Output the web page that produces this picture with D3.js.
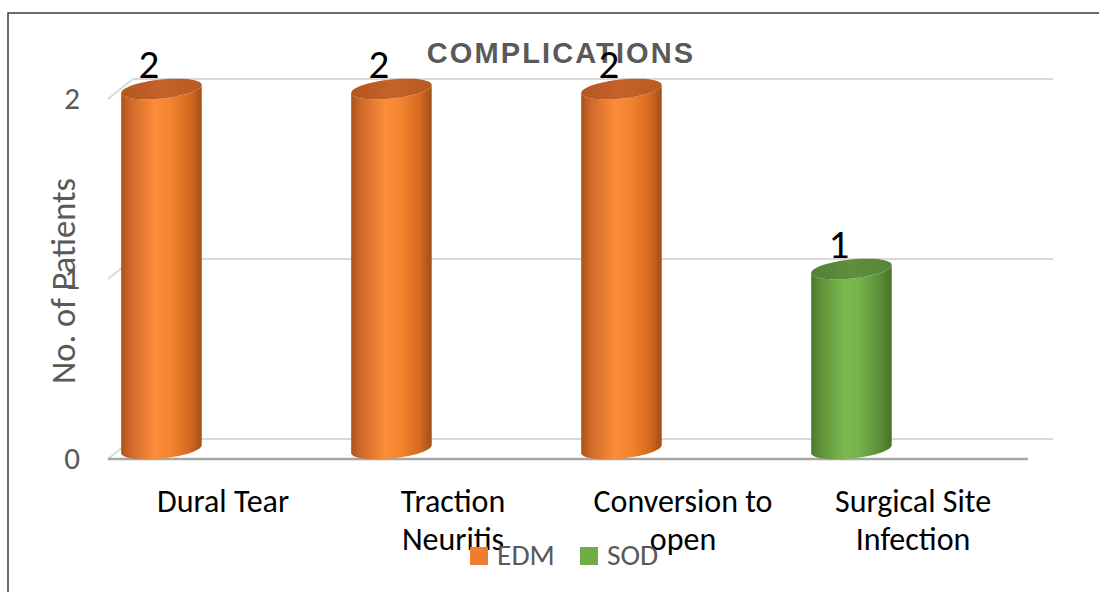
<!DOCTYPE html>
<html>
<head>
<meta charset="utf-8">
<script src="https://cdn.jsdelivr.net/npm/d3@7"></script>
<style>
  body { margin: 0; background: #fff; }
  svg { display: block; }
</style>
</head>
<body>
<svg id="chart" width="1099" height="592"></svg>
<script>
// Complications per category, split by procedure
const categories = ["Dural Tear", "Traction Neuritis", "Conversion to open", "Surgical Site Infection"];
const categoryLines = [["Dural Tear"], ["Traction", "Neuritis"], ["Conversion to", "open"], ["Surgical Site", "Infection"]];
const seriesNames = ["EDM", "SOD"];
const edmValues = [2, 2, 2, 0];
const sodValues = [0, 0, 0, 1];
const yTickValues = [0, 1, 2];
const seriesColors = ["#ED7D31", "#70AD47"];

const FONT = "Carlito, Lato, 'Open Sans', sans-serif";
const svg = d3.select("#chart");

// 3-D look: back wall is offset from the front plane by (dx, dy)
const depth = { dx: 25, dy: -20 };
const x = d3.scaleBand().domain(categories).range([108, 1028]);
const y = d3.scaleLinear().domain([0, 2]).range([459, 99]);
const bw = x.bandwidth();

// gradients for cylinder sides and tops
const defs = svg.append("defs");
const sideStops = [
  [[0, "#ad531b"], [0.12, "#d0692a"], [0.42, "#fb8c3a"], [0.6, "#f5852f"], [0.86, "#d3691f"], [1, "#a24e18"]],
  [[0, "#4c7a2f"], [0.12, "#5f9239"], [0.42, "#7cba50"], [0.6, "#76b14a"], [0.86, "#5a8d36"], [1, "#47722a"]]
];
const topStops = [
  [[0, "#b4571f"], [0.5, "#c4622a"], [1, "#b85a22"]],
  [[0, "#547f35"], [0.5, "#5f8f3d"], [1, "#578538"]]
];
seriesNames.forEach((s, i) => {
  const g = defs.append("linearGradient").attr("id", "side" + i)
    .attr("x1", 0).attr("x2", 1).attr("y1", 0).attr("y2", 0);
  sideStops[i].forEach(([o, c]) => g.append("stop").attr("offset", o).attr("stop-color", c));
  const t = defs.append("linearGradient").attr("id", "top" + i)
    .attr("x1", 0).attr("x2", 1).attr("y1", 0).attr("y2", 0);
  topStops[i].forEach(([o, c]) => t.append("stop").attr("offset", o).attr("stop-color", c));
});

// outer frame
svg.append("path").attr("d", "M8,592V13H1099")
  .attr("fill", "none").attr("stroke", "#3a3a3a").attr("stroke-width", 1.5);

// title
svg.append("text")
  .attr("x", 561).attr("y", 63)
  .attr("text-anchor", "middle")
  .style("font-family", "'Liberation Sans', Arial, sans-serif")
  .style("font-weight", "bold").style("font-size", "29px")
  .style("letter-spacing", "2.1px")
  .attr("fill", "#595959")
  .text("COMPLICATIONS");

// gridlines on the back wall plus the side-wall diagonals
const grid = svg.append("g");
yTickValues.forEach(v => {
  grid.append("line")
    .attr("x1", x.range()[0] + depth.dx).attr("x2", x.range()[1] + depth.dx)
    .attr("y1", y(v) + depth.dy).attr("y2", y(v) + depth.dy)
    .attr("stroke", "#d9d9d9").attr("stroke-width", 2);
  grid.append("line")
    .attr("x1", x.range()[0]).attr("y1", y(v))
    .attr("x2", x.range()[0] + depth.dx).attr("y2", y(v) + depth.dy)
    .attr("stroke", "#d9d9d9").attr("stroke-width", 2);
});
// front floor edge
grid.append("line")
  .attr("x1", x.range()[0]).attr("x2", x.range()[1])
  .attr("y1", y(0)).attr("y2", y(0))
  .attr("stroke", "#a6a6a6").attr("stroke-width", 2.5);

// y axis tick labels
const yAxis = svg.append("g").attr("transform", "translate(80,0)")
  .call(d3.axisLeft(y).tickValues(yTickValues).tickSize(0).tickPadding(0).tickFormat(d3.format("d")));
yAxis.select(".domain").remove();
yAxis.selectAll("text")
  .style("font-family", FONT).style("font-size", "31px").attr("fill", "#595959");

// y axis title
svg.append("text")
  .attr("transform", "translate(75,281) rotate(-90)")
  .attr("text-anchor", "middle")
  .style("font-family", FONT).style("font-size", "34.5px")
  .attr("fill", "#595959")
  .text("No. of Patients");

// category labels
const xAxis = svg.append("g").attr("transform", `translate(0,${y(0)})`)
  .call(d3.axisBottom(x).tickSize(0));
xAxis.select(".domain").remove();
xAxis.selectAll("text").each(function (d, i) {
  const t = d3.select(this).text(null).attr("y", 0).attr("dy", null)
    .style("font-family", FONT).style("font-size", "32px").attr("fill", "#000");
  categoryLines[i].forEach((line, k) => {
    t.append("tspan").attr("x", 0).attr("y", 53 + k * 38).text(line);
  });
});

// cylinder geometry
const theta = -6 * Math.PI / 180;
function ellipsePt(cx, cy, rx, ry, t) {
  return [
    cx + rx * Math.cos(t) * Math.cos(theta) - ry * Math.sin(t) * Math.sin(theta),
    cy + rx * Math.cos(t) * Math.sin(theta) + ry * Math.sin(t) * Math.cos(theta)
  ];
}
const line = d3.line();
function sidePath(cx, yTop, yBot, rx, ry) {
  const t0 = Math.atan2(-ry * Math.sin(theta), rx * Math.cos(theta));
  const pts = [];
  // left silhouette down, bottom front arc, right silhouette up, top front arc
  d3.range(0, 41).forEach(k => pts.push(ellipsePt(cx, yBot, rx, ry, t0 + Math.PI - k * Math.PI / 40)));
  d3.range(0, 41).forEach(k => pts.push(ellipsePt(cx, yTop, rx, ry, t0 + k * Math.PI / 40)));
  return line(pts) + "Z";
}
function topPath(cx, cy, rx, ry) {
  return line(d3.range(0, 81).map(k => ellipsePt(cx, cy, rx, ry, k * 2 * Math.PI / 80))) + "Z";
}

// one cylinder per non-zero value
const bars = [];
categories.forEach((c, i) => {
  [edmValues[i], sodValues[i]].forEach((v, s) => {
    if (v > 0) bars.push({ category: c, series: s, value: v });
  });
});

const rx = bw * 0.176, ry = 9.5;
const frontCx = d => x(d.category) + bw * 0.178;
const barG = svg.append("g");
bars.forEach(d => {
  const cx = frontCx(d) + depth.dx / 2;
  const yTop = y(d.value) + depth.dy / 2;
  const yBot = y(0) + depth.dy / 2;
  barG.append("path").attr("d", sidePath(cx, yTop, yBot, rx, ry))
    .attr("fill", `url(#side${d.series})`);
  barG.append("path").attr("d", topPath(cx, yTop, rx, ry))
    .attr("fill", `url(#top${d.series})`);
});

// value labels
svg.append("g").selectAll("text").data(bars).join("text")
  .attr("x", frontCx)
  .attr("y", d => y(d.value) + depth.dy - 1)
  .attr("text-anchor", "middle")
  .style("font-family", FONT).style("font-size", "41px")
  .attr("fill", "#000")
  .text(d => d.value);

// legend
const legend = svg.append("g").selectAll("g").data(seriesNames).join("g")
  .attr("transform", (d, i) => `translate(${470 + i * 110},547)`);
legend.append("rect").attr("width", 18).attr("height", 18)
  .attr("fill", (d, i) => seriesColors[i]);
legend.append("text").attr("x", 27).attr("y", 17.5)
  .style("font-family", FONT).style("font-size", "29.5px")
  .attr("fill", "#595959")
  .text(d => d);
</script>
</body>
</html>
